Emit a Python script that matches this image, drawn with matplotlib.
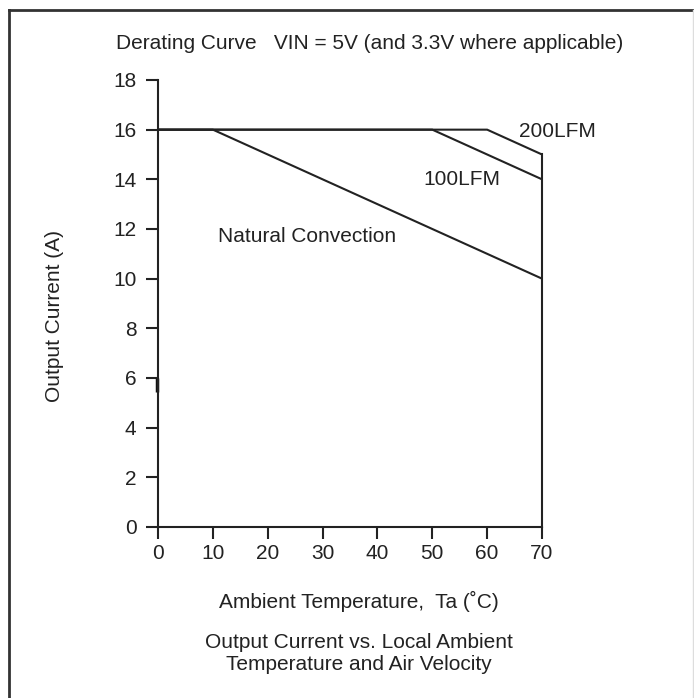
import numpy as np
import matplotlib.pyplot as plt
from matplotlib.lines import Line2D

plt.rcParams['font.family'] = ['Liberation Sans', 'DejaVu Sans']

# derating curves: breakpoints (temperature, current)
nat_x = [0, 10, 70]
nat_y = [16, 16, 10]
lfm100_x = [0, 50, 70]
lfm100_y = [16, 16, 14]
lfm200_x = [0, 60, 70]
lfm200_y = [16, 16, 15]

xticks = [0, 10, 20, 30, 40, 50, 60, 70]
yticks = [0, 2, 4, 6, 8, 10, 12, 14, 16, 18]

ink = '#222222'
lw = 1.5
fs = 15

fig = plt.figure(figsize=(6.94, 6.98), dpi=100)
ax = fig.add_axes([0.2277, 0.245, 0.5533, 0.6404])

ax.plot(nat_x, nat_y, color=ink, lw=lw)
ax.plot(lfm100_x, lfm100_y, color=ink, lw=lw)
ax.plot(lfm200_x, lfm200_y, color=ink, lw=lw)
# right edge drop to zero
ax.plot([70, 70], [0, lfm200_y[-1]], color=ink, lw=lw, clip_on=False)
# small thick stub on the y axis near 6 (scan artefact)
ax.plot([-0.15, -0.15], [5.45, 6.0], color='#111111', lw=2.5, clip_on=False,
        solid_capstyle='butt')

ax.set_xlim(0, 70)
ax.set_ylim(0, 18)
ax.set_xticks(xticks)
ax.set_yticks(yticks)
for s in ['top', 'right']:
    ax.spines[s].set_visible(False)
for s in ['left', 'bottom']:
    ax.spines[s].set_linewidth(lw)
    ax.spines[s].set_color(ink)
ax.tick_params(direction='out', length=8.5, width=lw, color=ink,
               labelcolor=ink, labelsize=fs)
ax.tick_params(axis='y', pad=7)
ax.tick_params(axis='x', pad=4)

ax.text(65.8, 15.70, '200LFM', fontsize=fs, color=ink, va='baseline')
ax.text(48.3, 13.77, '100LFM', fontsize=fs, color=ink, va='baseline')
ax.text(10.9, 11.48, 'Natural Convection', fontsize=fs, color=ink, va='baseline')

fig.text(55 / 694, 1 - 316 / 698, 'Output Current (A)', rotation=90,
         fontsize=fs, color=ink, ha='center', va='center')

fig.text(370 / 694, 1 - 49 / 698,
         'Derating Curve   VIN = 5V (and 3.3V where applicable)',
         fontsize=fs, color=ink, ha='center', va='baseline')
fig.text(359 / 694, 1 - 608 / 698, 'Ambient Temperature,  Ta (˚C)',
         fontsize=fs, color=ink, ha='center', va='baseline')
fig.text(359 / 694, 1 - 648 / 698, 'Output Current vs. Local Ambient',
         fontsize=fs, color=ink, ha='center', va='baseline')
fig.text(359 / 694, 1 - 670 / 698, 'Temperature and Air Velocity',
         fontsize=fs, color=ink, ha='center', va='baseline')

# frame around the figure (left and top only, faint right)
fig.add_artist(Line2D([0.013, 0.013], [0, 0.986], transform=fig.transFigure,
                      color='#333333', lw=2))
fig.add_artist(Line2D([0.013, 1.0], [0.986, 0.986], transform=fig.transFigure,
                      color='#333333', lw=2))
fig.add_artist(Line2D([0.9985, 0.9985], [0, 0.986], transform=fig.transFigure,
                      color='#dddddd', lw=1))

fig.savefig('out.png', dpi=100)
